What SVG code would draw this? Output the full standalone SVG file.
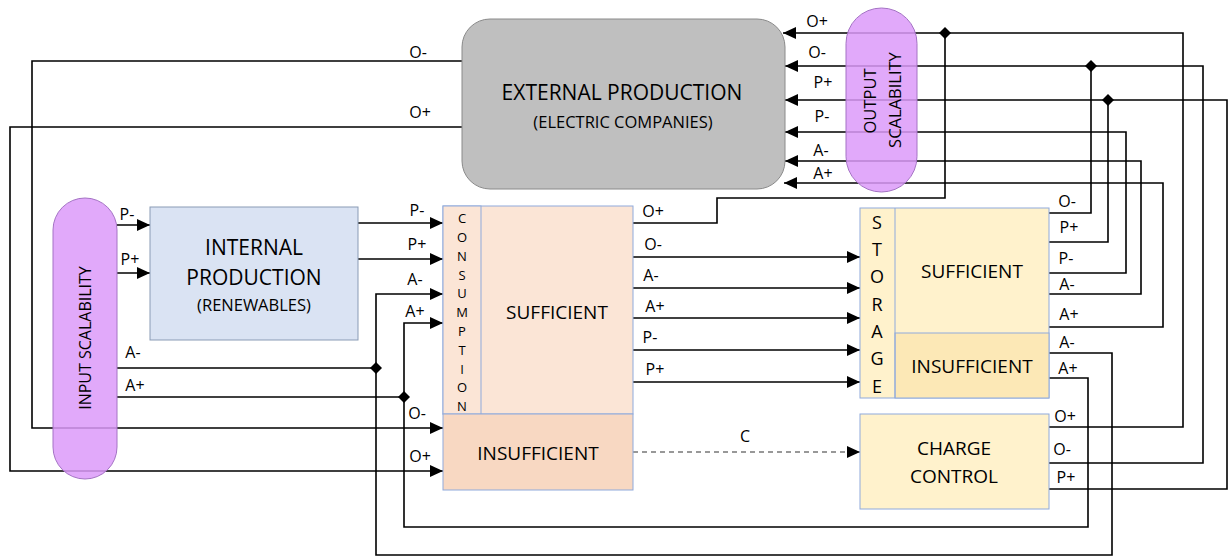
<svg xmlns="http://www.w3.org/2000/svg" width="1230" height="557" viewBox="0 0 1230 557">
<defs>
<marker id="arr" markerUnits="userSpaceOnUse" markerWidth="14" markerHeight="12" refX="13" refY="6" orient="auto"><path d="M0,0 L13,6 L0,12 z" fill="#000"/></marker>
<style>
.ln{fill:none;stroke:#000;stroke-width:1.6}
.ar{marker-end:url(#arr)}
.dash{fill:none;stroke:#333;stroke-width:1.2;stroke-dasharray:5 4}
.dm{fill:#000}
text{font-family:"Open Sans","Liberation Sans",sans-serif;fill:#000}
.lb{font-size:16px;text-anchor:middle}
.big{font-size:21px;text-anchor:middle}
.mid{font-size:19px;text-anchor:middle}
.sub{font-size:16.5px;text-anchor:middle}
.lt{font-size:13px;text-anchor:middle}
.st{font-size:18px;text-anchor:middle}
.pill{fill:#dc9af9;fill-opacity:0.85;stroke:#a473c4;stroke-width:1}
.bx{stroke:#8faadc;stroke-width:1}
</style>
</defs>

<g id="connectors">
<path class="ln ar" d="M462,61 H32 V428 H443"/>
<path class="ln ar" d="M462,127 H10 V471 H443"/>
<path class="ln ar" d="M117,225 H150"/>
<path class="ln ar" d="M117,273 H150"/>
<path class="ln ar" d="M358,223 H443"/>
<path class="ln ar" d="M358,259 H443"/>
<path class="ln" d="M117,368 H376"/>
<path class="ln ar" d="M1049,353 H1112 V555 H376 V294 H443"/>
<path class="ln" d="M117,397 H404"/>
<path class="ln ar" d="M1049,378 H1088 V527 H404 V323 H443"/>
<path class="ln ar" d="M633,257 H860"/>
<path class="ln ar" d="M633,288 H860"/>
<path class="ln ar" d="M633,318 H860"/>
<path class="ln ar" d="M633,350 H860"/>
<path class="ln ar" d="M633,382 H860"/>
<path class="dash ar" d="M633,452 H860"/>
<path class="ln" d="M633,223 H717 V198 H945 V33"/>
<path class="ln ar" d="M1049,427 H1183 V33 H783"/>
<path class="ln" d="M1049,213 H1091 V66"/>
<path class="ln ar" d="M1049,463 H1203 V66 H785"/>
<path class="ln" d="M1049,242 H1108 V100"/>
<path class="ln ar" d="M1049,489 H1227 V100 H785"/>
<path class="ln ar" d="M1049,273 H1126 V132 H785"/>
<path class="ln ar" d="M1049,294 H1141 V161 H785"/>
<path class="ln ar" d="M1049,327 H1163 V183 H784"/>
<path class="dm" d="M376,362 L382,368 L376,374 L370,368 z"/>
<path class="dm" d="M404,391 L410,397 L404,403 L398,397 z"/>
<path class="dm" d="M945,27 L951,33 L945,39 L939,33 z"/>
<path class="dm" d="M1091,60 L1097,66 L1091,72 L1085,66 z"/>
<path class="dm" d="M1108,94 L1114,100 L1108,106 L1102,100 z"/>
<text class="lb" x="418" y="58">O-</text>
<text class="lb" x="420" y="118">O+</text>
<text class="lb" x="127" y="220">P-</text>
<text class="lb" x="130" y="265">P+</text>
<text class="lb" x="133" y="358">A-</text>
<text class="lb" x="135" y="391">A+</text>
<text class="lb" x="417" y="216">P-</text>
<text class="lb" x="417" y="250">P+</text>
<text class="lb" x="415" y="285">A-</text>
<text class="lb" x="415" y="317">A+</text>
<text class="lb" x="417" y="419">O-</text>
<text class="lb" x="420" y="462">O+</text>
<text class="lb" x="653" y="217">O+</text>
<text class="lb" x="653" y="250">O-</text>
<text class="lb" x="651" y="281">A-</text>
<text class="lb" x="655" y="312">A+</text>
<text class="lb" x="650" y="343">P-</text>
<text class="lb" x="655" y="375">P+</text>
<text class="lb" x="745" y="442">C</text>
<text class="lb" x="817" y="27">O+</text>
<text class="lb" x="817" y="58">O-</text>
<text class="lb" x="823" y="88">P+</text>
<text class="lb" x="822" y="122">P-</text>
<text class="lb" x="821" y="156">A-</text>
<text class="lb" x="823" y="179">A+</text>
<text class="lb" x="1067" y="207">O-</text>
<text class="lb" x="1069" y="233">P+</text>
<text class="lb" x="1066" y="264">P-</text>
<text class="lb" x="1067" y="290">A-</text>
<text class="lb" x="1069" y="320">A+</text>
<text class="lb" x="1067" y="348">A-</text>
<text class="lb" x="1068" y="374">A+</text>
<text class="lb" x="1065" y="422">O+</text>
<text class="lb" x="1062" y="455">O-</text>
<text class="lb" x="1066" y="483">P+</text>
</g>

<g id="external-production">
<rect x="462" y="19" width="323" height="170" rx="28" ry="28" fill="#bfbfbf" stroke="#8a8a8a" stroke-width="1"/>
<text class="big" x="622" y="100">EXTERNAL PRODUCTION</text>
<text class="sub" x="623" y="128">(ELECTRIC COMPANIES)</text>
</g>

<g id="output-scalability">
<rect class="pill" x="846" y="8" width="71" height="184" rx="35.5" ry="35.5"/>
<text class="sub" transform="rotate(-90 870 101)" x="870" y="107">OUTPUT</text>
<text class="sub" transform="rotate(-90 895 100)" x="895" y="106">SCALABILITY</text>
</g>

<g id="input-scalability">
<rect class="pill" x="53" y="198" width="64" height="281" rx="32" ry="32"/>
<text class="sub" style="font-size:16px" transform="rotate(-90 85 338)" x="85" y="344">INPUT SCALABILITY</text>
</g>

<g id="internal-production">
<rect x="150" y="207" width="208" height="133" fill="#dae3f3" stroke="#8a9bb5" stroke-width="1"/>
<text class="mid" style="font-size:21px" x="254" y="255">INTERNAL</text>
<text class="mid" style="font-size:21px" x="254" y="285">PRODUCTION</text>
<text class="sub" x="254" y="311">(RENEWABLES)</text>
</g>

<g id="consumption">
<rect class="bx" x="443" y="206" width="190" height="208" fill="#fbe5d6"/>
<rect class="bx" x="443" y="206" width="38" height="208" fill="#fbe5d6"/>
<rect class="bx" x="443" y="414" width="190" height="76" fill="#f8d8c2"/>
<text class="lt" x="462" y="223">C</text>
<text class="lt" x="462" y="242">O</text>
<text class="lt" x="462" y="261">N</text>
<text class="lt" x="462" y="280">S</text>
<text class="lt" x="462" y="298">U</text>
<text class="lt" x="462" y="317">M</text>
<text class="lt" x="462" y="336">P</text>
<text class="lt" x="462" y="355">T</text>
<text class="lt" x="462" y="374">I</text>
<text class="lt" x="462" y="392">O</text>
<text class="lt" x="462" y="411">N</text>
<text class="mid" x="557" y="319">SUFFICIENT</text>
<text class="mid" x="538" y="460">INSUFFICIENT</text>
</g>

<g id="storage">
<rect class="bx" x="860" y="208" width="189" height="190" fill="#fff2cc"/>
<rect class="bx" x="895" y="333" width="154" height="65" fill="#fce8b6"/>
<line x1="895" y1="208" x2="895" y2="398" stroke="#8faadc" stroke-width="1"/>
<text class="st" x="877" y="229">S</text>
<text class="st" x="877" y="256">T</text>
<text class="st" x="877" y="283">O</text>
<text class="st" x="877" y="311">R</text>
<text class="st" x="877" y="338">A</text>
<text class="st" x="877" y="365">G</text>
<text class="st" x="877" y="393">E</text>
<text class="mid" x="972" y="278">SUFFICIENT</text>
<text class="mid" x="972" y="373">INSUFFICIENT</text>
</g>

<g id="charge-control">
<rect class="bx" x="860" y="414" width="189" height="95" fill="#fff2cc"/>
<text class="mid" x="954" y="455">CHARGE</text>
<text class="mid" x="954" y="483">CONTROL</text>
</g>
</svg>
